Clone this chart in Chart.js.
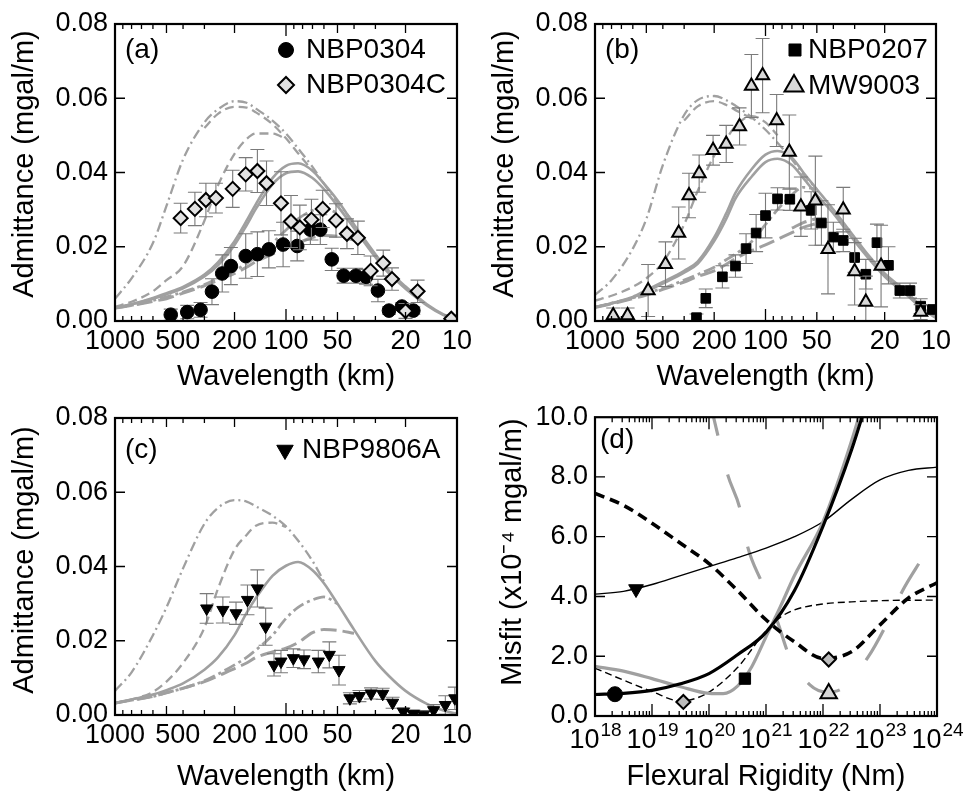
<!DOCTYPE html>
<html>
<head>
<meta charset="utf-8">
<script src="https://cdn.jsdelivr.net/npm/chart.js@4.4.1/dist/chart.umd.min.js"></script>
<style>
  body { margin: 0; background: #fff; width: 969px; height: 794px; position: relative; overflow: hidden; }
  canvas { position: absolute; }
</style>
</head>
<body>
<canvas id="ca" width="480" height="394" style="left:0;top:0"></canvas>
<canvas id="cb" width="489" height="394" style="left:480px;top:0"></canvas>
<canvas id="cc" width="480" height="400" style="left:0;top:394px"></canvas>
<canvas id="cd" width="489" height="400" style="left:480px;top:394px"></canvas>
<script>
// wavelength grid (km) for the model curves
const wl = [1000, 800, 600, 500, 400, 300, 250, 200, 170, 150, 120, 100, 85, 70, 60, 50, 40, 30, 25, 20, 15, 12, 10];
const wlTicks = [1000, 500, 200, 100, 50, 20, 10];
const admTicks = [0, 0.02, 0.04, 0.06, 0.08];

// panel (a) models
const aDashDot = [0.006, 0.0115, 0.021, 0.031, 0.0435, 0.0535, 0.057, 0.0592, 0.0588, 0.0572, 0.054, 0.0505, 0.0465, 0.0415, 0.037, 0.032, 0.0265];
const aDash1 = [null, null, null, null, null, 0.052, 0.0558, 0.0577, 0.0575, 0.0562, 0.053, 0.0492, 0.0452, 0.0405];
const aDash2 = [0.0038, 0.0052, 0.008, 0.011, 0.0148, 0.027, 0.0365, 0.045, 0.049, 0.0505, 0.0505, 0.049];
const aSolid1 = [0.0035, 0.0045, 0.0062, 0.0075, 0.0092, 0.0125, 0.0158, 0.0215, 0.027, 0.0315, 0.0385, 0.0418, 0.0425, 0.0405, 0.037, 0.0325, 0.026, 0.018, 0.0135, 0.0093, 0.0045, 0.0018, 0.0004];
const aSolid2 = [0.0035, 0.0045, 0.006, 0.0072, 0.0088, 0.012, 0.015, 0.0205, 0.0258, 0.0302, 0.0368, 0.0398, 0.0403, 0.0385, 0.0355, 0.031, 0.025, 0.0172, 0.0128, 0.0087, 0.0042, 0.0016, 0.0003];
const aLowDD = [0.0035, 0.0042, 0.0055, 0.0065, 0.0078, 0.0098, 0.0115, 0.0135, 0.0155, 0.0172, 0.021, 0.0245, 0.0275, 0.0298, 0.0305, 0.029];
const aLongD = [0.0035, 0.0042, 0.0053, 0.006, 0.0075, 0.0095, 0.011, 0.0128, 0.0145, 0.016, 0.018, 0.0195, 0.021, 0.0225, 0.023, 0.0228, 0.0218];

// panel (a) data
const aCircWl = [472, 378, 316, 271, 236, 210, 172, 147, 126, 104, 86, 72, 63, 54, 46, 39, 34, 29, 25, 21, 18];
const aCircVal = [0.0017, 0.0024, 0.0030, 0.0079, 0.0128, 0.0148, 0.0175, 0.0180, 0.0193, 0.0206, 0.0202, 0.0246, 0.0246, 0.0166, 0.0122, 0.0122, 0.0119, 0.0082, 0.0028, 0.0039, 0.0028];
const aCircErr = [0.0015, 0.0018, 0.002, 0.0035, 0.005, 0.005, 0.006, 0.006, 0.005, 0.006, 0.004, 0.004, 0.004, 0.003, 0.002, 0.002, 0.002, 0.003, 0.001, 0.001, 0.001];
const aDiaWl = [413, 341, 294, 257, 205, 172, 147, 130, 107, 93.5, 83, 71, 61, 51, 44, 38, 32, 27, 24, 20, 17, 10.8];
const aDiaVal = [0.0277, 0.0302, 0.0326, 0.0331, 0.0356, 0.0395, 0.0404, 0.0371, 0.0317, 0.0268, 0.0252, 0.0273, 0.0302, 0.0271, 0.0235, 0.0224, 0.0135, 0.0156, 0.0113, 0.0027, 0.0080, 0.0006];
const aDiaErr = [0.004, 0.0045, 0.0045, 0.004, 0.005, 0.0045, 0.0058, 0.006, 0.0085, 0.007, 0.006, 0.0055, 0.005, 0.0045, 0.004, 0.0045, 0.004, 0.0035, 0.003, 0.002, 0.003, 0.001];

// panel (b) models
const bDashDot = [0.007, 0.011, 0.0195, 0.0275, 0.042, 0.0555, 0.0595, 0.0606, 0.0595, 0.058, 0.0548, 0.0515, 0.048, 0.0435, 0.0395, 0.0355];
const bDash1 = [null, null, null, null, null, 0.054, 0.0578, 0.0592, 0.0582, 0.0568, 0.0545];
const bDash2 = [0.0055, 0.0068, 0.0092, 0.0115, 0.0158, 0.026, 0.035, 0.0445, 0.049, 0.0525, 0.0552, 0.0535, 0.05];
const bSolid1 = [0.0037, 0.0048, 0.0065, 0.0083, 0.0105, 0.0135, 0.016, 0.0225, 0.029, 0.0345, 0.041, 0.0448, 0.0458, 0.044, 0.040, 0.0355, 0.030, 0.0225, 0.0178, 0.0128, 0.008, 0.0035, 0.001];
const bSolid2 = [0.0037, 0.0047, 0.0063, 0.008, 0.0101, 0.013, 0.0154, 0.0215, 0.0275, 0.033, 0.039, 0.0428, 0.0437, 0.042, 0.0385, 0.034, 0.029, 0.0215, 0.017, 0.012, 0.0072, 0.0032, 0.0008];
const bLowDD = [0.0037, 0.0048, 0.0062, 0.0075, 0.0088, 0.011, 0.0125, 0.0145, 0.0165, 0.018, 0.0215, 0.026, 0.030, 0.034, 0.036, 0.0355];
const bLongD = [0.0037, 0.0046, 0.006, 0.007, 0.0085, 0.0105, 0.012, 0.0135, 0.0153, 0.0168, 0.019, 0.0205, 0.022, 0.0238, 0.0252, 0.0263];
const bLongD2 = [null, null, null, null, null, null, null, null, null, null, null, null, null, 0.025, 0.0265, 0.0276];

// panel (b) data
const bSqWl = [254, 224, 179, 150, 130, 113.5, 100, 85, 72, 54, 47, 40, 35, 30, 25.8, 22.2, 19, 16.3, 14.2, 12.3, 10.5];
const bSqVal = [0.0009, 0.0061, 0.0119, 0.0148, 0.0195, 0.0237, 0.0284, 0.0329, 0.0328, 0.0298, 0.0264, 0.0226, 0.0217, 0.0171, 0.0126, 0.0211, 0.0150, 0.0082, 0.0082, 0.0040, 0.0031];
const bSqErr = [0.001, 0.0025, 0.003, 0.003, 0.004, 0.005, 0.006, 0.003, 0.003, 0.005, 0.006, 0.004, 0.003, 0.004, 0.004, 0.005, 0.005, 0.002, 0.002, 0.002, 0.001];
const bTriWl = [782, 644, 488, 386, 323, 281, 245, 203, 170, 142, 121, 104, 86, 72.5, 62, 51, 43, 35, 30, 25.8, 21, 12.3];
const bTriVal = [0.0015, 0.0015, 0.0082, 0.0153, 0.0237, 0.0338, 0.0397, 0.0460, 0.0477, 0.0524, 0.0633, 0.0661, 0.0540, 0.0455, 0.0308, 0.0324, 0.0193, 0.0300, 0.0133, 0.0051, 0.0148, 0.0024];
const bTriErr = [0.002, 0.002, 0.007, 0.006, 0.007, 0.006, 0.005, 0.004, 0.005, 0.005, 0.0085, 0.01, 0.007, 0.01, 0.008, 0.012, 0.012, 0.006, 0.009, 0.007, 0.011, 0.002];

// panel (c) models
const cDashDot = [0.0065, 0.0115, 0.0215, 0.029, 0.0395, 0.0515, 0.0558, 0.0579, 0.0575, 0.0562, 0.0537, 0.0508, 0.047, 0.0415, 0.036];
const cDash = [0.0032, 0.0042, 0.0062, 0.009, 0.014, 0.0235, 0.034, 0.0445, 0.0485, 0.051, 0.0518, 0.0507];
const cSolid = [0.0032, 0.0042, 0.0055, 0.0067, 0.0085, 0.0122, 0.0155, 0.0215, 0.0275, 0.0315, 0.0375, 0.0402, 0.0412, 0.039, 0.0355, 0.030, 0.023, 0.0145, 0.0105, 0.0065, 0.003, 0.0012, 0.0003];
const cLowDD = [0.0032, 0.004, 0.005, 0.006, 0.0072, 0.0092, 0.011, 0.0135, 0.0155, 0.0175, 0.0215, 0.026, 0.029, 0.031, 0.0318, 0.030];
const cLongD = [0.0032, 0.004, 0.005, 0.006, 0.0072, 0.009, 0.0105, 0.0125, 0.014, 0.0155, 0.017, 0.018, 0.0195, 0.0222, 0.023, 0.0228, 0.022];

// panel (c) data
const cTriWl = [291, 234, 196, 168, 147, 131.5, 117.5, 107, 90.6, 78.5, 64.7, 55.8, 49, 42.3, 37.2, 31.8, 27.2, 23.8, 20.6, 18, 15.7, 13.7, 11.7, 10.3];
const cTriVal = [0.0287, 0.0283, 0.0274, 0.0310, 0.0341, 0.0238, 0.0135, 0.0144, 0.0153, 0.0150, 0.0144, 0.0162, 0.0121, 0.0045, 0.0051, 0.0058, 0.0057, 0.0033, 0.0009, 0.0003, 0.0001, 0.0013, 0.0027, 0.0045];
const cTriErr = [0.004, 0.0035, 0.003, 0.004, 0.005, 0.005, 0.003, 0.003, 0.0025, 0.0025, 0.003, 0.0035, 0.004, 0.0015, 0.0015, 0.0015, 0.0015, 0.0015, 0.001, 0.001, 0.001, 0.0015, 0.0025, 0.003];

// panel (d) misfit curves, x given as log10 of rigidity (Nm)
const dThinSolidX = [18, 18.5, 19, 19.5, 20, 20.5, 21, 21.5, 22, 22.5, 23, 23.5, 24];
const dThinSolid = [4.08, 4.17, 4.4, 4.7, 5.0, 5.3, 5.62, 6.0, 6.5, 7.25, 7.9, 8.22, 8.33];
const dThickSolidX = [18, 18.5, 19, 19.5, 20, 20.5, 21, 21.5, 22, 22.5, 23];
const dThickSolid = [0.72, 0.76, 0.86, 1.08, 1.42, 2.05, 2.8, 4.2, 6.35, 8.9, 12];
const dGraySolidX = [18, 18.5, 19, 19.5, 20, 20.25, 20.5, 20.75, 21, 21.25, 21.5, 22, 22.5, 23];
const dGraySolid = [1.66, 1.5, 1.25, 0.98, 0.76, 0.75, 1.0, 1.65, 2.65, 3.65, 4.7, 6.5, 9.2, 12.5];
const dThickDashX = [18, 18.5, 19, 19.5, 20, 20.5, 21, 21.5, 22, 22.5, 23, 23.5, 24];
const dThickDash = [7.45, 7.05, 6.45, 5.78, 5.1, 4.2, 3.22, 2.48, 1.93, 2.15, 3.05, 3.95, 4.46];
const dThinDashX = [18, 18.5, 19, 19.5, 19.75, 20, 20.5, 21, 21.25, 21.5, 22, 22.5, 23, 24];
const dThinDash = [1.6, 1.2, 0.82, 0.5, 0.58, 0.8, 1.62, 2.85, 3.3, 3.55, 3.75, 3.82, 3.86, 3.88];
const dGrayDashX = [20.08, 20.33, 20.54, 20.68, 20.93, 21.21, 21.39, 21.77, 22.07, 22.35, 22.79, 23.09, 23.4, 23.74];
const dGrayDash = [10.0, 8.06, 6.96, 5.65, 4.45, 3.11, 2.1, 1.04, 0.8, 0.94, 1.97, 2.98, 4.21, 5.28];
// best-fit markers
const dMarkX = [18.35, 18.72, 19.55, 20.63, 22.1, 22.1];
const dMarkY = [0.73, 4.25, 0.47, 1.25, 1.89, 0.75];
const misfitTicks = [0, 2, 4, 6, 8, 10];

const FONT = '"Liberation Sans", Arial, Helvetica, sans-serif';
const GRAY = '#a0a0a0';

// marker and line styles
const mCircle = { style: 'circle', r: 6.8, fill: '#000', stroke: '#000', lw: 1 };
const mDiamond = { style: 'rectRot', r: 7, fill: '#e2e2e2', stroke: '#000', lw: 2 };
const mSquare = { style: 'rect', r: 6.8, fill: '#000', stroke: '#000', lw: 1 };
const mTriUp = { style: 'triangle', r: 7.5, fill: '#d8d8d8', stroke: '#000', lw: 2 };
const mTriDown = { style: 'triangle', r: 7, rot: 180, fill: '#000', stroke: '#000', lw: 1 };

const sSolid = { w: 2.6, d: [] };
const sDashDot = { w: 2.3, d: [10, 4, 2, 4] };
const sDash = { w: 2.3, d: [9, 5] };
const sLowDD = { w: 2.8, d: [12, 4, 3, 4] };
const sLongD = { w: 3, d: [16, 6] };

function drawMarker(ctx, m, x, y, r) {
  r = r || m.r;
  const rot = (m.rot || 0) * Math.PI / 180;
  ctx.save();
  ctx.beginPath();
  if (m.style === 'circle') {
    ctx.arc(x, y, r, 0, Math.PI * 2);
  } else if (m.style === 'rect') {
    const s = Math.SQRT1_2 * r;
    ctx.rect(x - s, y - s, 2 * s, 2 * s);
  } else if (m.style === 'rectRot') {
    ctx.moveTo(x - r, y); ctx.lineTo(x, y - r); ctx.lineTo(x + r, y); ctx.lineTo(x, y + r);
  } else {
    let a = rot;
    ctx.moveTo(x + Math.sin(a) * r, y - Math.cos(a) * r);
    a += 2 * Math.PI / 3;
    ctx.lineTo(x + Math.sin(a) * r, y - Math.cos(a) * r);
    a += 2 * Math.PI / 3;
    ctx.lineTo(x + Math.sin(a) * r, y - Math.cos(a) * r);
  }
  ctx.closePath();
  ctx.fillStyle = m.fill;
  ctx.fill();
  ctx.lineWidth = m.lw;
  ctx.strokeStyle = m.stroke;
  ctx.stroke();
  ctx.restore();
}

function crv(vals, st, xs, color) {
  xs = xs || wl;
  const data = [];
  vals.forEach((v, i) => { if (v !== null) data.push({ x: xs[i], y: v }); });
  return {
    type: 'line', data, borderColor: color || GRAY, borderWidth: st.w, borderDash: st.d,
    borderDashOffset: st.o || 0,
    pointRadius: 0, cubicInterpolationMode: 'monotone', fill: false, borderCapStyle: 'butt'
  };
}

function pts(xs, vals, errs, m) {
  return {
    type: 'scatter', data: xs.map((w, i) => ({ x: w, y: vals[i] })), errors: errs,
    pointStyle: m.style, pointRadius: m.r, pointRotation: m.rot || 0,
    pointBackgroundColor: m.fill, pointBorderColor: m.stroke, pointBorderWidth: m.lw
  };
}

// vertical error bars, drawn right before the markers of their dataset
const errorBars = {
  id: 'errorBars',
  beforeDatasetDraw(chart, args) {
    const ds = chart.data.datasets[args.index];
    if (!ds.errors) return;
    const { ctx, chartArea: a, scales: { x, y } } = chart;
    ctx.save();
    ctx.beginPath();
    ctx.rect(a.left, a.top, a.right - a.left, a.bottom - a.top);
    ctx.clip();
    ctx.strokeStyle = '#7a7a7a';
    ctx.lineWidth = 1.1;
    ctx.beginPath();
    ds.data.forEach((p, i) => {
      const px = x.getPixelForValue(p.x);
      const y1 = y.getPixelForValue(p.y - ds.errors[i]);
      const y2 = y.getPixelForValue(p.y + ds.errors[i]);
      ctx.moveTo(px, y1); ctx.lineTo(px, y2);
      ctx.moveTo(px - 7, y1); ctx.lineTo(px + 7, y1);
      ctx.moveTo(px - 7, y2); ctx.lineTo(px + 7, y2);
    });
    ctx.stroke();
    ctx.restore();
  }
};

// frame, inward ticks on all sides, y title, panel label and legend
function makeDeco(cfg) {
  return {
    id: 'deco',
    afterDraw(chart) {
      const { ctx, chartArea: a, scales: { x, y } } = chart;
      ctx.save();
      ctx.strokeStyle = '#000';
      ctx.lineWidth = 1.3;
      ctx.beginPath();
      cfg.xTicks.forEach(([v, len]) => {
        const px = x.getPixelForValue(v);
        ctx.moveTo(px, a.bottom); ctx.lineTo(px, a.bottom - len);
        ctx.moveTo(px, a.top); ctx.lineTo(px, a.top + len);
      });
      cfg.yTicks.forEach(v => {
        const py = y.getPixelForValue(v);
        ctx.moveTo(a.left, py); ctx.lineTo(a.left + 10, py);
        ctx.moveTo(a.right, py); ctx.lineTo(a.right - 10, py);
      });
      ctx.stroke();
      ctx.lineWidth = 2.2;
      ctx.strokeRect(a.left, a.top, a.right - a.left, a.bottom - a.top);
      ctx.fillStyle = '#000';

      ctx.save();
      ctx.font = '29px ' + FONT;
      ctx.translate(cfg.yTitleX, cfg.yTitleY);
      ctx.rotate(-Math.PI / 2);
      ctx.textAlign = 'center';
      ctx.textBaseline = 'middle';
      ctx.fillText(cfg.yTitle, 0, 0);
      ctx.restore();

      ctx.font = '28px ' + FONT;
      ctx.textBaseline = 'middle';
      ctx.textAlign = 'left';
      ctx.fillText(cfg.label, cfg.labelX, cfg.labelY);
      (cfg.legend || []).forEach(item => {
        drawMarker(ctx, item.m, item.mx, item.y, item.r);
        ctx.fillStyle = '#000';
        ctx.fillText(item.text, item.tx, item.y);
      });
      if (cfg.after) cfg.after(chart);
      ctx.restore();
    }
  };
}

const admXTicks = [];
[1000, 100, 10].forEach(v => admXTicks.push([v, 12]));
[500, 200, 50, 20].forEach(v => admXTicks.push([v, 9]));
[900, 800, 700, 600, 400, 300, 90, 80, 70, 60, 40, 30].forEach(v => admXTicks.push([v, 5]));

function admitChart(id, padRight, xAxisH, datasets, deco) {
  deco.yTitle = 'Admittance (mgal/m)';
  return new Chart(document.getElementById(id), {
    type: 'scatter',
    data: { datasets },
    options: {
      responsive: false, animation: false, events: [],
      layout: { padding: { left: 0, top: 24, right: padRight, bottom: 0 } },
      plugins: { legend: { display: false }, tooltip: { enabled: false } },
      scales: {
        x: {
          type: 'logarithmic', reverse: true, min: 10, max: 1000,
          afterBuildTicks: s => { s.ticks = wlTicks.map(v => ({ value: v })); },
          afterFit: s => { s.height = xAxisH; },
          grid: { display: false, drawTicks: false }, border: { display: false },
          ticks: {
            color: '#000', font: { family: FONT, size: 27 }, padding: 4, autoSkip: false, maxRotation: 0,
            callback: v => (v === 500 ? '   500' : String(v))
          },
          title: { display: true, text: 'Wavelength (km)', color: '#000', font: { family: FONT, size: 29 }, padding: 0 }
        },
        y: {
          min: 0, max: 0.08,
          afterBuildTicks: s => { s.ticks = admTicks.map(v => ({ value: v })); },
          afterFit: s => { s.width = 115; },
          grid: { display: false, drawTicks: false }, border: { display: false },
          ticks: { color: '#000', font: { family: FONT, size: 27 }, padding: 7, callback: v => v.toFixed(2) },
          title: { display: false }
        }
      }
    },
    plugins: [errorBars, makeDeco(deco)]
  });
}

// (a)
admitChart('ca', 23, 73, [
  pts(aDiaWl, aDiaVal, aDiaErr, mDiamond),
  pts(aCircWl, aCircVal, aCircErr, mCircle),
  crv(aSolid1, sSolid), crv(aSolid2, sSolid),
  crv(aDashDot, sDashDot), crv(aDash1, sDash), crv(aDash2, sDash),
  crv(aLowDD, sLowDD), crv(aLongD, sLongD)
], {
  xTicks: admXTicks, yTicks: [0.02, 0.04, 0.06], label: '(a)', labelX: 125, labelY: 50,
  yTitleX: 25, yTitleY: 164,
  legend: [
    { m: mCircle, r: 7.5, mx: 286, tx: 306, y: 50, text: 'NBP0304' },
    { m: mDiamond, r: 8, mx: 286, tx: 306, y: 85, text: 'NBP0304C' }
  ]
});

// (b)
admitChart('cb', 33, 73, [
  pts(bTriWl, bTriVal, bTriErr, mTriUp),
  pts(bSqWl, bSqVal, bSqErr, mSquare),
  crv(bSolid1, sSolid), crv(bSolid2, sSolid),
  crv(bDashDot, sDashDot), crv(bDash1, sDash), crv(bDash2, sDash),
  crv(bLowDD, sLowDD), crv(bLongD, sLongD), crv(bLongD2, sLongD)
], {
  xTicks: admXTicks, yTicks: [0.02, 0.04, 0.06], label: '(b)', labelX: 125, labelY: 50,
  yTitleX: 25, yTitleY: 164,
  legend: [
    { m: mSquare, r: 8.5, mx: 315, tx: 328, y: 50, text: 'NBP0207' },
    { m: mTriUp, r: 11, mx: 314, tx: 328, y: 86, text: 'MW9003' }
  ]
});

// (c)
admitChart('cc', 23, 79, [
  pts(cTriWl, cTriVal, cTriErr, mTriDown),
  crv(cSolid, sSolid),
  crv(cDashDot, sDashDot), crv(cDash, sDash),
  crv(cLowDD, sLowDD), crv(cLongD, sLongD)
], {
  xTicks: admXTicks, yTicks: [0.02, 0.04, 0.06], label: '(c)', labelX: 125, labelY: 56,
  yTitleX: 25, yTitleY: 166,
  legend: [
    { m: mTriDown, r: 9.5, mx: 285, tx: 302, y: 56, text: 'NBP9806A' }
  ]
});

// (d)
const dXTicks = [];
for (let e = 18; e < 24; e++) {
  if (e > 18) dXTicks.push([10 ** e, 12]);
  for (let k = 2; k <= 9; k++) dXTicks.push([k * 10 ** e, 5]);
}
const ex = arr => arr.map(v => 10 ** v);

new Chart(document.getElementById('cd'), {
  type: 'scatter',
  data: {
    datasets: [
      {
        type: 'scatter', data: dMarkX.map((e, i) => ({ x: 10 ** e, y: dMarkY[i] })),
        pointStyle: ['circle', 'triangle', 'rectRot', 'rect', 'rectRot', 'triangle'],
        pointRotation: [0, 180, 0, 0, 0, 0],
        pointRadius: [7.5, 8.5, 7, 8, 7, 9.5],
        pointBackgroundColor: ['#000', '#000', '#bdbdbd', '#000', '#bdbdbd', '#d6d6d6'],
        pointBorderColor: '#000', pointBorderWidth: [1, 1, 2, 1, 2, 2]
      },
      crv(dThickSolid, { w: 3.2, d: [] }, ex(dThickSolidX), '#000'),
      crv(dGraySolid, { w: 3.2, d: [] }, ex(dGraySolidX), GRAY),
      crv(dThinSolid, { w: 1.4, d: [] }, ex(dThinSolidX), '#000'),
      crv(dThickDash, { w: 3.6, d: [10, 6] }, ex(dThickDashX), '#000'),
      crv(dThinDash, { w: 1.4, d: [7, 4] }, ex(dThinDashX), '#000'),
      crv(dGrayDash, { w: 3.2, d: [35, 40], o: 16 }, ex(dGrayDashX), GRAY)
    ]
  },
  options: {
    responsive: false, animation: false, events: [],
    layout: { padding: { left: 0, top: 23, right: 32, bottom: 0 } },
    plugins: { legend: { display: false }, tooltip: { enabled: false } },
    scales: {
      x: {
        type: 'logarithmic', min: 1e18, max: 1e24,
        afterFit: s => { s.height = 78; },
        grid: { display: false, drawTicks: false }, border: { display: false },
        ticks: { display: false },
        title: { display: true, text: 'Flexural Rigidity (Nm)', color: '#000', font: { family: FONT, size: 29 }, padding: 0 }
      },
      y: {
        min: 0, max: 10,
        afterBuildTicks: s => { s.ticks = misfitTicks.map(v => ({ value: v })); },
        afterFit: s => { s.width = 115; },
        grid: { display: false, drawTicks: false }, border: { display: false },
        ticks: { color: '#000', font: { family: FONT, size: 27 }, padding: 7, callback: v => v.toFixed(1) },
        title: { display: false }
      }
    }
  },
  plugins: [makeDeco({
    xTicks: dXTicks, yTicks: [2, 4, 6, 8], label: '(d)', labelX: 120, labelY: 46,
    yTitle: 'Misfit (x10\u207B\u2074 mgal/m)', yTitleX: 33, yTitleY: 158,
    after(chart) {
      const { ctx, scales: { x }, chartArea: a } = chart;
      ctx.fillStyle = '#000';
      ctx.textAlign = 'left';
      ctx.textBaseline = 'middle';
      for (let e = 18; e <= 24; e++) {
        const px = x.getPixelForValue(10 ** e);
        ctx.font = '27px ' + FONT;
        const w1 = ctx.measureText('10').width;
        ctx.font = '19px ' + FONT;
        const w2 = ctx.measureText(String(e)).width;
        const x0 = px - (w1 + w2) / 2;
        ctx.font = '27px ' + FONT;
        ctx.fillText('10', x0, a.bottom + 25);
        ctx.font = '19px ' + FONT;
        ctx.fillText(String(e), x0 + w1 + 1, a.bottom + 15);
      }
    }
  })]
});
</script>
</body>
</html>
